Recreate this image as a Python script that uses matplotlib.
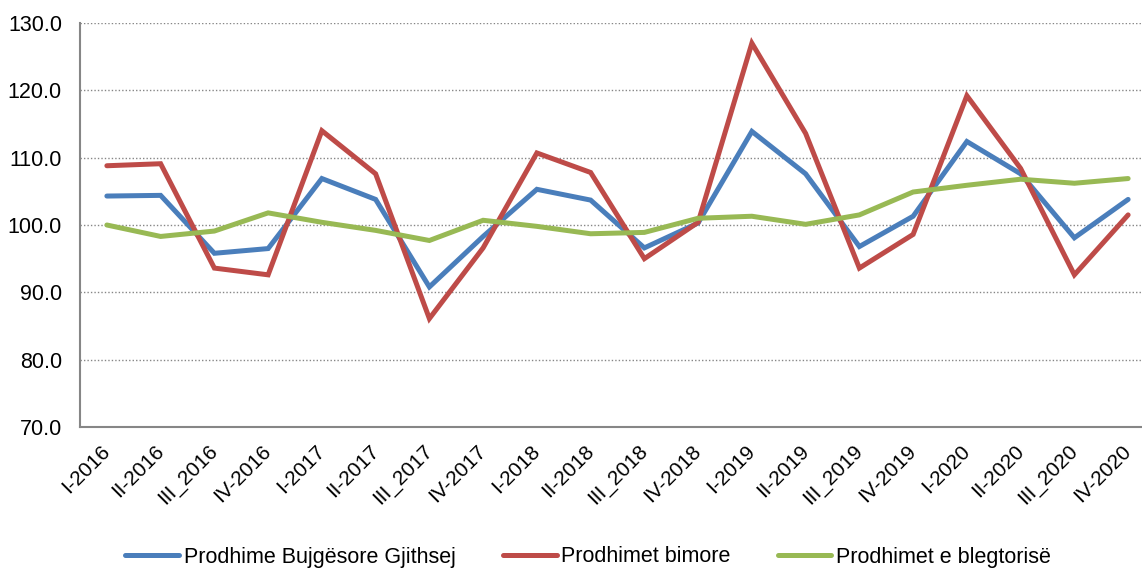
import matplotlib
matplotlib.use("Agg")
import matplotlib.pyplot as plt

plt.rcParams['font.family'] = ['Liberation Sans', 'DejaVu Sans']

#quarters
quarters = ["I-2016", "II-2016", "III_2016", "IV-2016",
            "I-2017", "II-2017", "III_2017", "IV-2017",
            "I-2018", "II-2018", "III_2018", "IV-2018",
            "I-2019", "II-2019", "III_2019", "IV-2019",
            "I-2020", "II-2020", "III_2020", "IV-2020"]

#series values
total = [104.3, 104.4, 95.8, 96.5, 106.9, 103.8, 90.8, 98.3, 105.3, 103.7,
         96.6, 100.3, 113.9, 107.6, 96.8, 101.3, 112.4, 107.6, 98.1, 103.8]
crops = [108.8, 109.1, 93.6, 92.6, 114.0, 107.6, 86.1, 96.6, 110.7, 107.8,
         95.0, 100.4, 127.0, 113.6, 93.6, 98.6, 119.2, 108.4, 92.6, 101.5]
livestock = [100.0, 98.3, 99.1, 101.8, 100.4, 99.2, 97.7, 100.7, 99.8, 98.7,
             98.9, 101.0, 101.3, 100.1, 101.5, 104.9, 105.9, 106.8, 106.2, 106.9]

names = ["Prodhime Bujgësore Gjithsej", "Prodhimet bimore", "Prodhimet e blegtorisë"]
colors = ["#4A7EBB", "#BE4B48", "#98B954"]

fig = plt.figure(figsize=(11.42, 5.71), dpi=100)
ax = fig.add_axes([80/1142, 144/571, 1075/1142, 404/571])

x = range(len(quarters))
for vals, name, c in zip([total, crops, livestock], names, colors):
    ax.plot(x, vals, color=c, lw=3.6, label=name, solid_joinstyle="miter",
            solid_capstyle="round")

ax.set_xlim(-0.5, len(quarters) - 0.5)
ax.set_ylim(70, 130)
ax.set_yticks(range(70, 131, 10))
ax.set_yticklabels([f"{v:.1f}" for v in range(70, 131, 10)])
ax.set_xticks(list(x))
ax.set_xticklabels(quarters, rotation=45, ha="right", va="center", rotation_mode="anchor")

ax.tick_params(axis="y", length=0, pad=13, labelsize=15.5)
ax.tick_params(axis="x", length=0, pad=15, labelsize=15)
ax.grid(axis="y", linestyle=(0, (1, 1.5)), color="#868686", lw=1)
ax.set_axisbelow(True)
for s in ["top", "right"]:
    ax.spines[s].set_visible(False)
for s in ["left", "bottom"]:
    ax.spines[s].set_color("#868686")
    ax.spines[s].set_linewidth(1.5)

#legend kept just inside the bottom edge
fig.legend(loc="center", bbox_to_anchor=(588/1142, 14/571), ncol=3, frameon=False,
           fontsize=15.5, handlelength=2.5, handletextpad=0.2, columnspacing=2.2,
           borderpad=0.1)

fig.savefig("out.png", dpi=100)
